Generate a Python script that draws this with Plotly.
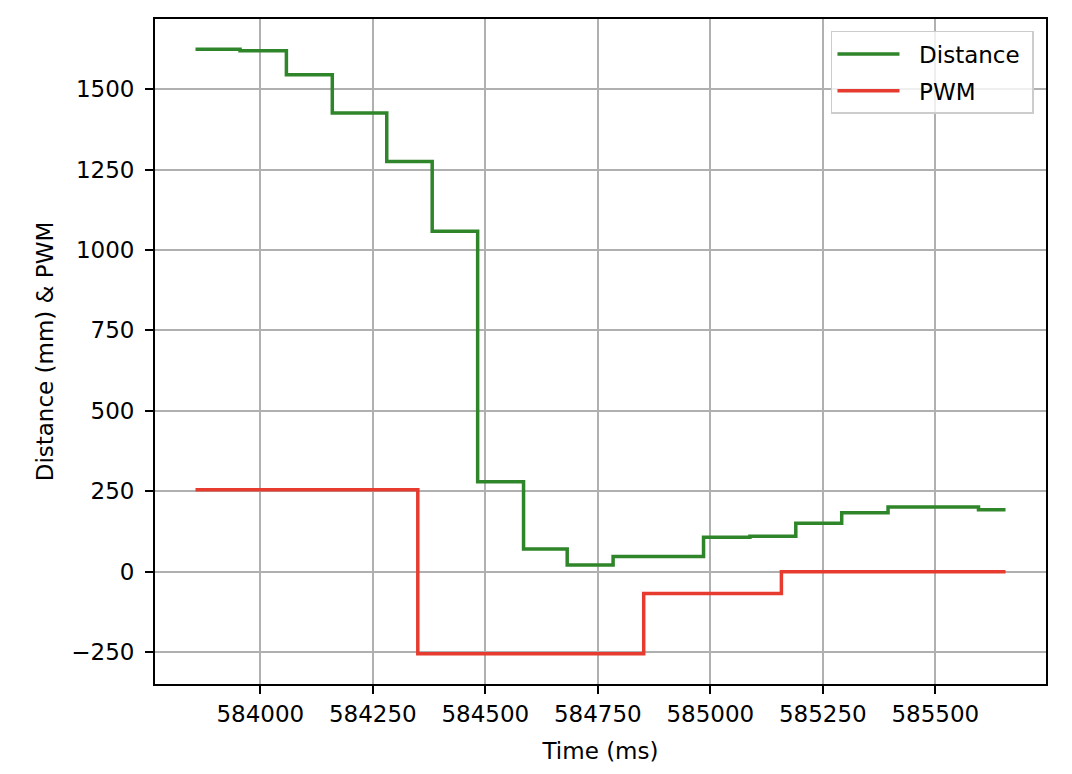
import plotly.graph_objects as go

# Distance (step changes)
dist_time = [583856, 583955, 584058, 584160, 584281, 584382, 584483, 584585,
             584682, 584784, 584985, 585088, 585190, 585292, 585395, 585596, 585656]
dist_val = [1624, 1619, 1545, 1426, 1275, 1058, 280, 71,
            21, 47, 107, 110, 151, 183, 201, 193, 193]

# PWM (step changes)
pwm_time = [583856, 584350, 584852, 585158, 585656]
pwm_val = [255, -255, -68, 0, 0]

x_ticks = [584000, 584250, 584500, 584750, 585000, 585250, 585500]
y_ticks = [-250, 0, 250, 500, 750, 1000, 1250, 1500]

GREEN = "#2f852a"
RED = "#e63b2e"
FONT = "DejaVu Sans"
FS = 23
NB = "\u00a0\u00a0"

xmin = min(dist_time + pwm_time); xmax = max(dist_time + pwm_time)
ymin = min(dist_val + pwm_val); ymax = max(dist_val + pwm_val)
xm = (xmax - xmin) * 0.05
ym = (ymax - ymin) * 0.05

fig = go.Figure()
fig.add_trace(go.Scatter(x=dist_time, y=dist_val, mode="lines", name=NB + "Distance\u00a0",
                         legendgroup="a",
                         line=dict(color=GREEN, width=3.5, shape="hv")))
fig.add_trace(go.Scatter(x=pwm_time, y=pwm_val, mode="lines", name=NB + "PWM",
                         legendgroup="b",
                         line=dict(color=RED, width=3.5, shape="hv")))

axis_common = dict(
    showgrid=True, gridcolor="#b0b0b0", gridwidth=1.8,
    showline=True, linecolor="black", linewidth=1.8, mirror=True,
    ticks="outside", ticklen=8, tickwidth=1.8, tickcolor="black",
    zeroline=False, automargin=False,
    tickfont=dict(family=FONT, size=FS, color="black"),
)

fig.update_layout(
    width=1072, height=774,
    margin=dict(l=155, r=26, t=19, b=90),
    paper_bgcolor="white", plot_bgcolor="white",
    font=dict(family=FONT, size=FS, color="black"),
    xaxis=dict(range=[xmin - xm, xmax + xm], tickvals=x_ticks,
               ticktext=[str(v) for v in x_ticks],
               title=dict(text="Time (ms)", font=dict(family=FONT, size=FS), standoff=17),
               **axis_common),
    yaxis=dict(range=[ymin - ym, ymax + ym], tickvals=y_ticks,
               ticktext=[str(v).replace("-", "\u2212") for v in y_ticks],
               ticklabelstandoff=6,
               title=dict(text="Distance (mm) & PWM", font=dict(family=FONT, size=FS), standoff=11),
               **axis_common),
    legend=dict(x=0.9865, y=0.982, xanchor="right", yanchor="top",
                bgcolor="rgba(255,255,255,0.8)", bordercolor="#cccccc", borderwidth=1.5,
                font=dict(family=FONT, size=FS), traceorder="grouped",
                tracegroupgap=4, itemwidth=62),
    showlegend=True,
)

fig.write_html("out.html", config={"displayModeBar": False},
               post_script="document.body.style.margin='0';")
